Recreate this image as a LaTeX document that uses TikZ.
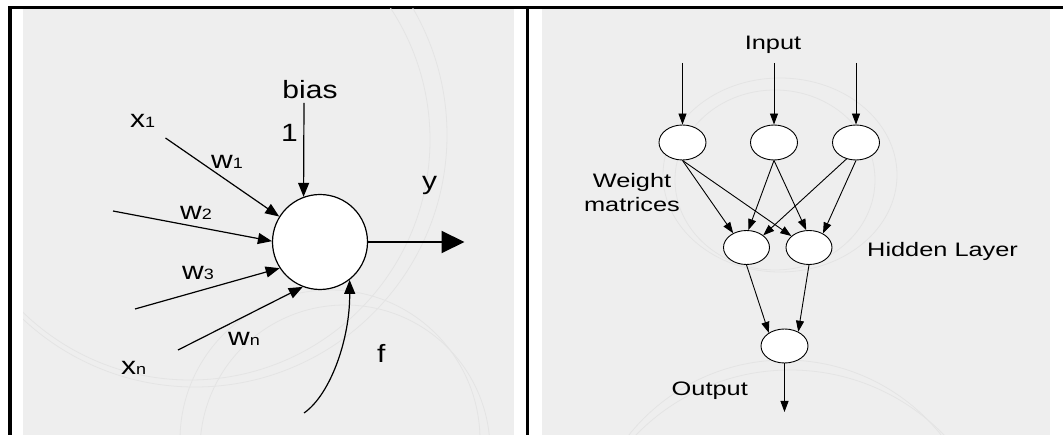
\documentclass[tikz,border=0pt]{standalone}
\usepackage{graphicx}
\usepackage{fontspec}
\setmainfont{Liberation Sans}
\usetikzlibrary{arrows.meta,shapes.geometric}
\definecolor{panel}{HTML}{EEEEEE}
\definecolor{faint}{HTML}{E4E4E4}
\newcommand\lwx[1]{\scalebox{1.2}[1]{#1}}
\newcommand\rwx[1]{\scalebox{1.3}[1]{#1}}
\newcommand\subs[1]{{\fontsize{15}{15}\selectfont #1}}
\begin{document}
\begin{tikzpicture}[x=1pt,y=-1pt,
  lt/.style={line width=1.2pt, -{Triangle[length=14pt,width=11pt]}},
  rt/.style={line width=0.9pt, -{Triangle[length=11pt,width=8pt]}},
  bigt/.style={line width=2pt, -{Triangle[length=23pt,width=22pt]}},
  neuron/.style={circle, draw, line width=1.2pt, fill=white, minimum size=95pt, inner sep=0pt},
  unit/.style={ellipse, draw, line width=0.9pt, fill=white, inner sep=0pt},
  ltext/.style={inner sep=0pt, font=\fontsize{25}{25}\selectfont},
  rtext/.style={inner sep=0pt, font=\fontsize{19.5}{23}\selectfont},
  arc/.style={draw=faint, line width=0.8pt}
]
\useasboundingbox (0,0) rectangle (1063,435);
% panels
\fill[panel] (23,9) rectangle (514,435);
\fill[panel] (542,9) rectangle (1050,435);
\fill[black] (8,6) rectangle (1063,9);
\fill[black] (8,6) rectangle (12,435);
\fill[black] (526,6) rectangle (529,435);
% faint background arcs
\begin{scope}
  \clip (23,9) rectangle (514,435);
  \draw[arc] (190,140) circle[radius=240pt];
  \draw[arc] (195,135) circle[radius=252pt];
  \draw[arc] (330,440) circle[radius=150pt];
  \draw[arc] (345,450) circle[radius=145pt];
\end{scope}
\begin{scope}
  \clip (542,9) rectangle (1050,435);
  \draw[arc] (780,175) ellipse[x radius=117pt, y radius=97pt];
  \draw[arc] (775,180) ellipse[x radius=100pt, y radius=90pt];
  \draw[arc] (785,560) circle[radius=200pt];
  \draw[arc] (790,585) circle[radius=215pt];
\end{scope}

% ---------- left: single neuron ----------
\node[neuron] (n) at (320,242) {};
\coordinate (s1) at (165.5,138);
\coordinate (s2) at (113,211);
\coordinate (s3) at (135,309);
\coordinate (s4) at (178,350);
\coordinate (b0) at (304,103);
\coordinate (f0) at (304,413);
\coordinate (yo) at (464.5,242);
\draw[lt] (s1) -- (n.148);
\draw[lt] (s2) -- (n.179);
\draw[lt] (s3) -- (n.213);
\draw[lt] (s4) -- (n.249);
\draw[lt] (b0) -- (n.110);
\draw[lt] (f0) .. controls (330,395) and (350,340) .. (n.308);
\draw[bigt] (n.east) -- (yo);

\node[ltext, anchor=base west] (x1) at (130,128) {\lwx{x\subs{1}}};
\node[ltext, anchor=base west] (w1) at (211,169) {\lwx{w\subs{1}}};
\node[ltext, anchor=base west] (w2) at (180,220) {\lwx{w\subs{2}}};
\node[ltext, anchor=base west] (w3) at (182,280) {\lwx{w\subs{3}}};
\node[ltext, anchor=base west] (wn) at (228,346) {\lwx{w\subs{n}}};
\node[ltext, anchor=base west] (xn) at (121,375) {\lwx{x\subs{n}}};
\node[ltext, anchor=base] (bias) at (310,99) {\lwx{bias}};
\node[ltext, anchor=base west] (one) at (281,142) {\lwx{1}};
\node[ltext, anchor=base west] (ylab) at (422,190) {\lwx{y}};
\node[ltext, anchor=base west] (flab) at (377,363) {\lwx{f}};

% ---------- right: network ----------
\node[unit, minimum width=47pt, minimum height=35pt] (t1) at (682.5,142.5) {};
\node[unit, minimum width=47pt, minimum height=35pt] (t2) at (774,142.5) {};
\node[unit, minimum width=47pt, minimum height=35pt] (t3) at (856,142.5) {};
\node[unit, minimum width=46pt, minimum height=34pt] (h1) at (746.5,247.5) {};
\node[unit, minimum width=46pt, minimum height=34pt] (h2) at (809,247.5) {};
\node[unit, minimum width=47pt, minimum height=34pt] (o) at (784.5,346) {};
\coordinate (i1) at (682.5,63);
\coordinate (i2) at (774,63);
\coordinate (i3) at (856,63);
\coordinate (oo) at (784.5,412);
\draw[rt] (i1) -- (t1.north);
\draw[rt] (i2) -- (t2.north);
\draw[rt] (i3) -- (t3.north);
\draw[rt] (t1.south) -- (h1.133);
\draw[rt] (t1.south) -- (h2.147);
\draw[rt] (t2.south) -- (h1.84);
\draw[rt] (t2.south) -- (h2.99);
\draw[rt] (t3.240) -- (h1.36);
\draw[rt] (t3.south) -- (h2.45);
\draw[rt] (h1.south) -- (o.140);
\draw[rt] (h2.south) -- (o.46);
\draw[rt] (o.south) -- (oo);

\node[rtext, anchor=base] (inp) at (773,50) {\rwx{Input}};
\node[rtext, anchor=base] (wm1) at (632,188) {\rwx{Weight}};
\node[rtext, anchor=base] (wm2) at (632,212) {\rwx{matrices}};
\node[rtext, anchor=base west] (hl) at (867,257) {\rwx{Hidden Layer}};
\node[rtext, anchor=base east] (out) at (748,396) {\rwx{Output}};
\end{tikzpicture}
\end{document}
